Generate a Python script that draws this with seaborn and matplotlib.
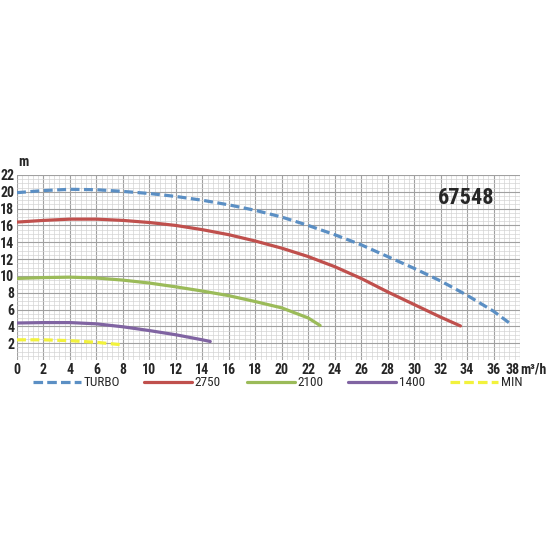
import matplotlib
matplotlib.use("Agg")
import matplotlib.pyplot as plt
from matplotlib import font_manager as fm
from matplotlib.lines import Line2D
import seaborn as sns
import pandas as pd
import numpy as np

# -----------------------------
# Data
# -----------------------------
turbo_q = [0, 2, 4, 6, 8, 10, 12, 14, 16, 18, 20, 22, 24, 26, 28, 30, 32, 34, 36, 37.2]
turbo_h = [19.9, 20.15, 20.3, 20.25, 20.05, 19.8, 19.45, 19.0, 18.45, 17.8, 17.0, 16.0, 14.9, 13.7, 12.3, 10.9, 9.4, 7.7, 5.8, 4.4]

r2750_q = [0, 2, 4, 6, 8, 10, 12, 14, 16, 18, 20, 22, 24, 26, 28, 30, 32, 33.5]
r2750_h = [16.4, 16.6, 16.75, 16.75, 16.6, 16.35, 16.0, 15.5, 14.9, 14.15, 13.3, 12.3, 11.1, 9.7, 8.1, 6.6, 5.1, 4.05]

r2100_q = [0, 2, 4, 6, 8, 10, 12, 14, 16, 18, 20, 22, 22.9]
r2100_h = [9.7, 9.8, 9.85, 9.75, 9.5, 9.15, 8.7, 8.2, 7.65, 6.95, 6.2, 5.0, 4.1]

r1400_q = [0, 2, 4, 6, 8, 10, 12, 14, 14.6]
r1400_h = [4.4, 4.45, 4.45, 4.3, 3.95, 3.5, 3.0, 2.4, 2.2]

min_q = [0, 2, 4, 6, 8]
min_h = [2.4, 2.4, 2.3, 2.1, 1.8]

series_names = ["TURBO", "2750", "2100", "1400", "MIN"]
series_q = [turbo_q, r2750_q, r2100_q, r1400_q, min_q]
series_h = [turbo_h, r2750_h, r2100_h, r1400_h, min_h]
colors = ["#5b8fc4", "#c0504d", "#9bbb59", "#8064a2", "#f2f23c"]
dashed = [True, False, False, False, True]

x_ticks = list(range(0, 39, 2))
y_ticks = list(range(2, 23, 2))
model_id = "67548"


# -----------------------------
# Font: prefer a condensed face
# -----------------------------
def pick_font(cands):
    for c in cands:
        try:
            fm.findfont(fm.FontProperties(family=c), fallback_to_default=False)
            return c
        except ValueError:
            pass
    return "DejaVu Sans"


font = pick_font(["Liberation Sans Narrow", "DejaVu Sans Condensed",
                  "Roboto Condensed", "Open Sans Condensed", "Liberation Sans"])

# -----------------------------
# Build long table
# -----------------------------
rows = []
for name, q, h in zip(series_names, series_q, series_h):
    for a, b in zip(q, h):
        rows.append({"series": name, "q": a, "h": b})
df = pd.DataFrame(rows)

# -----------------------------
# Plot
# -----------------------------
sns.set_theme(style="white")
plt.rcParams["font.family"] = [font, "DejaVu Sans"]
plt.rcParams["font.stretch"] = "condensed"

fig = plt.figure(figsize=(5.5, 5.5), dpi=100)
ax = fig.add_axes([17 / 550, 1 - 360 / 550, 503 / 550, 185 / 550])

LW = 2.3
DASH = (2.8, 1.4)
palette = dict(zip(series_names, colors))
dash_map = {n: (DASH if d else "") for n, d in zip(series_names, dashed)}
sns.lineplot(data=df, x="q", y="h", hue="series", style="series",
             palette=palette, dashes=dash_map, linewidth=LW, ax=ax,
             legend=False, sort=False)

ax.set_xlim(0, 38)
ax.set_ylim(0, 22)
ax.set_xticks(x_ticks)
ax.set_yticks(y_ticks)
ax.set_xticks(np.arange(0, 38.01, 0.4), minor=True)
ax.set_yticks(np.arange(0, 22.01, 0.5), minor=True)
ax.grid(which="major", color="#a0a0a0", linewidth=0.8)
ax.grid(which="minor", color="#d4d4d4", linewidth=0.5)
ax.set_axisbelow(True)
for s in ax.spines.values():
    s.set_visible(False)
ax.tick_params(which="both", length=0, labelsize=10, pad=2)
for lab in ax.get_xticklabels() + ax.get_yticklabels():
    lab.set_fontweight("bold")
ax.set_xlabel("")
ax.set_ylabel("")

# last x label "38" sits just left of its tick, unit follows it
ax.xaxis.get_major_ticks()[-1].label1.set_horizontalalignment("right")
ax.annotate("m³/h", xy=(38, 0), xycoords=ax.get_xaxis_transform(),
            xytext=(0.2, -2), textcoords="offset points",
            fontsize=10, fontweight="bold", ha="left", va="top")

ax.text(0.003, 1.035, "m", transform=ax.transAxes, fontsize=10,
        fontweight="bold", ha="left", va="bottom")
ax.text(33.9, 19.3, model_id, fontsize=16, fontweight="bold", ha="center", va="center")

# legend, one entry per slot under the chart
legend_x = [33, 144, 247, 348, 450]
for name, c, d, lx in zip(series_names, colors, dashed, legend_x):
    h = Line2D([0], [0], color=c, linewidth=LW, dashes=(3, 1.3) if d else (None, None))
    fig.legend([h], [name], loc="center left", bbox_to_anchor=(lx / 550, 1 - 383 / 550),
               frameon=False, handlelength=3.6, handletextpad=0.25, fontsize=9.5,
               borderpad=0, borderaxespad=0)

fig.savefig("out.png", dpi=100, facecolor="white")
